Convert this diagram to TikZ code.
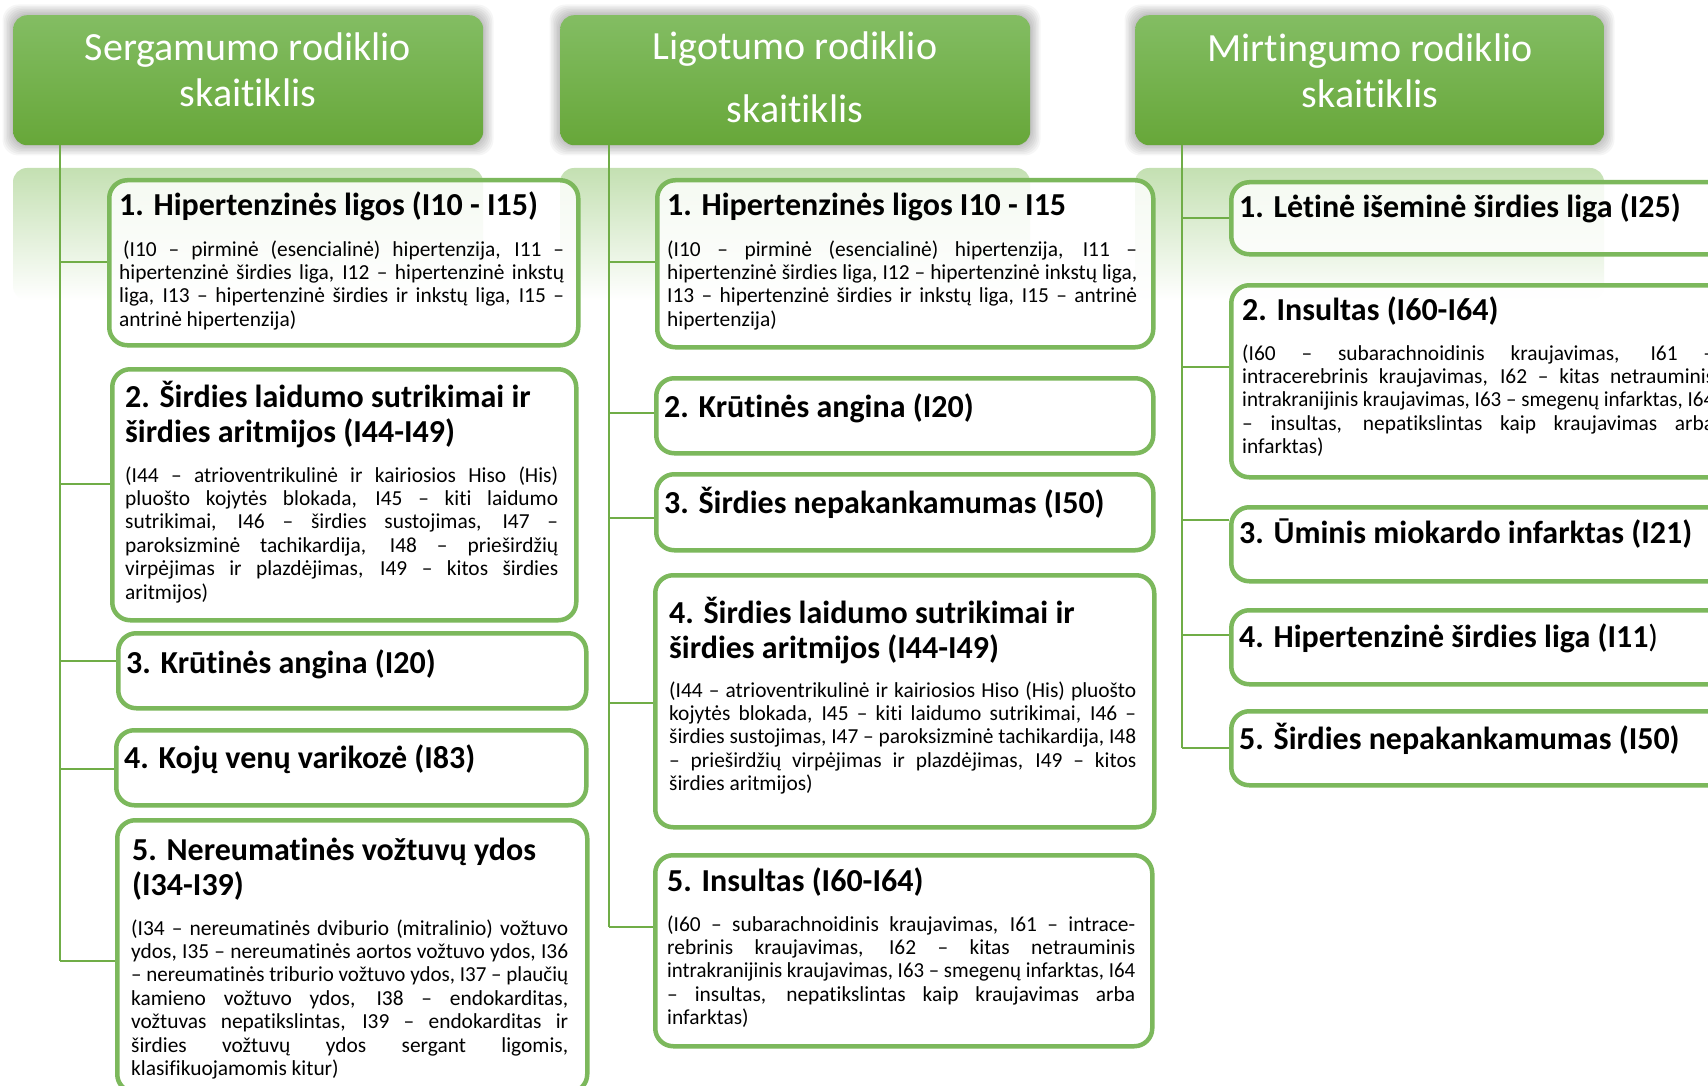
\documentclass[tikz,border=0pt]{standalone}
\usepackage{fontspec}
\usepackage{graphicx}
\setmainfont{Carlito}[Ligatures=NoCommon]
\definecolor{hdrtop}{RGB}{131,189,99}
\definecolor{hdrbot}{RGB}{103,167,57}
\definecolor{boxgreen}{RGB}{124,184,92}
\definecolor{linegreen}{RGB}{112,173,71}
\definecolor{refl}{RGB}{196,224,178}
\newlength\jlw
\newcommand{\jl}[1]{\settowidth{\jlw}{#1}%
  \ifdim\jlw>\linewidth
    \pgfmathsetmacro\jlr{\linewidth/\jlw}\scalebox{\jlr}[1]{#1}%
  \else
    \makebox[\linewidth][s]{#1}%
  \fi\\}
\tikzset{
  hdr/.style={rounded corners=14pt, top color=hdrtop, bottom color=hdrbot, draw=none,
    minimum width=470pt, minimum height=130pt, anchor=north west, inner sep=0pt},
  cbox/.style={draw=boxgreen, line width=4.5pt, rounded corners=18pt, fill=white,
    fill opacity=0.82, anchor=north west, inner sep=0pt},
  conn/.style={draw=linegreen, line width=2.6pt},
  ttl/.style={anchor=base west, inner sep=0pt, font=\fontsize{32}{35}\selectfont\bfseries},
  body/.style={anchor=base west, inner sep=0pt, font=\fontsize{21.4}{23.4}\selectfont},
  htxt/.style={anchor=base, inner sep=0pt, text=white, font=\fontsize{40}{46}\selectfont},
  shad/.style={fill=black, opacity=0.035, rounded corners=16pt},
}
\begin{document}
\begin{tikzpicture}[x=1pt,y=-1pt]
\useasboundingbox (0,0) rectangle (1708,1086);
\clip (0,0) rectangle (1708,1086);
\fill[white] (0,0) rectangle (1708,1086);

% shadows of headers
\foreach \xa/\xb in {13/483,560/1030,1135/1604}{
  \foreach \e in {1.5,3,...,10.5}{
    \fill[shad] (\xa-\e,15-\e) rectangle (\xb+\e,145+\e);
  }
}
% reflections
\foreach \xa/\xb in {13/483,560/1030,1135/1604}{
  \shade[top color=refl, bottom color=white, rounded corners=14pt] (\xa,168) rectangle (\xb,300);
}

% headers
\node[hdr] (h1) at (13,15) {};
\node[hdr] (h2) at (560,15) {};
\node[hdr, minimum width=469pt] (h3) at (1135,15) {};
\node[htxt] (h1t) at (248,61) {\parbox[t]{460pt}{\centering Sergamumo rodiklio\\skaitiklis}};
\node[htxt] (h2t) at (795,60) {\parbox[t]{460pt}{\centering\fontsize{40}{63}\selectfont Ligotumo rodiklio\\skaitiklis}};
\node[htxt] (h3t) at (1370,62) {\parbox[t]{460pt}{\centering Mirtingumo rodiklio\\skaitiklis}};

% spine coordinates
\coordinate (j11) at (60,262);
\coordinate (j12) at (60,484);
\coordinate (j13) at (60,661);
\coordinate (j14) at (60,769);
\coordinate (j15) at (60,961);
\coordinate (j21) at (609,262);
\coordinate (j22) at (609,413);
\coordinate (j23) at (609,518);
\coordinate (j24) at (609,703);
\coordinate (j25) at (609,927);
\coordinate (j31) at (1182,218);
\coordinate (j32) at (1182,367);
\coordinate (j33) at (1182,520);
\coordinate (j34) at (1182,635);
\coordinate (j35) at (1182,748);

\draw[conn] (h1.south -| j15) -- (j15);
\draw[conn] (h2.south -| j25) -- (j25);
\draw[conn] (h3.south -| j35) -- (j35);

% column 1 boxes
\node[cbox, minimum width=469pt, minimum height=165pt] (b11) at (107,178) {};
\node[cbox, minimum width=464pt, minimum height=251pt] (b12) at (110,367) {};
\node[cbox, minimum width=468pt, minimum height=75pt] (b13) at (116,631) {};
\node[cbox, minimum width=470pt, minimum height=75pt] (b14) at (114,728) {};
\node[cbox, minimum width=470pt, minimum height=272pt] (b15) at (115,818) {};
% column 2 boxes
\node[cbox, minimum width=496pt, minimum height=167pt] (b21) at (655,178) {};
\node[cbox, minimum width=497pt, minimum height=75pt] (b22) at (654,376) {};
\node[cbox, minimum width=497pt, minimum height=76pt] (b23) at (654,472) {};
\node[cbox, minimum width=499pt, minimum height=252pt] (b24) at (653,573) {};
\node[cbox, minimum width=497pt, minimum height=191pt] (b25) at (653,853) {};
% column 3 boxes
\node[cbox, minimum width=501pt, minimum height=72pt] (b31) at (1229,180) {};
\node[cbox, minimum width=501pt, minimum height=192pt] (b32) at (1229,283) {};
\node[cbox, minimum width=501pt, minimum height=74pt] (b33) at (1229,505) {};
\node[cbox, minimum width=501pt, minimum height=74pt] (b34) at (1229,608) {};
\node[cbox, minimum width=501pt, minimum height=74pt] (b35) at (1229,709) {};

% connectors
\foreach \c/\b in {j11/b11,j12/b12,j13/b13,j14/b14,j15/b15,j21/b21,j22/b22,j23/b23,j24/b24,j25/b25,j31/b31,j32/b32,j33/b33,j34/b34,j35/b35}{
  \draw[conn] (\c) -- (\c -| \b.west);
}

% column 1 texts
\node[ttl] (t11) at (119,216) {1. Hipertenzinės ligos (I10 - I15)};
\node[body] (d11) at (119,256) {\parbox[t]{445pt}{%
\jl{\hspace*{4pt}(I10 – pirminė (esencialinė) hipertenzija, I11 –}
\jl{hipertenzinė širdies liga, I12 – hipertenzinė inkstų}
\jl{liga, I13 – hipertenzinė širdies ir inkstų liga, I15 –}
antrinė hipertenzija)}};

\node[ttl] (t12) at (125,407) {\parbox[t]{440pt}{2. Širdies laidumo sutrikimai ir\\širdies aritmijos (I44-I49)}};
\node[body] (d12) at (125,482) {\parbox[t]{433pt}{%
\jl{(I44 – atrioventrikulinė ir kairiosios Hiso (His)}
\jl{pluošto kojytės blokada, I45 – kiti laidumo}
\jl{sutrikimai, I46 – širdies sustojimas, I47 –}
\jl{paroksizminė tachikardija, I48 – prieširdžių}
\jl{virpėjimas ir plazdėjimas, I49 – kitos širdies}
aritmijos)}};

\node[ttl] (t13) at (126,673) {3. Krūtinės angina (I20)};
\node[ttl] (t14) at (124,768) {4. Kojų venų varikozė (I83)};

\node[ttl] (t15) at (132,860) {\parbox[t]{440pt}{5. Nereumatinės vožtuvų ydos\\(I34-I39)}};
\node[body] (d15) at (131,935) {\parbox[t]{437pt}{%
\jl{(I34 – nereumatinės dviburio (mitralinio) vožtuvo}
\jl{ydos, I35 – nereumatinės aortos vožtuvo ydos, I36}
\jl{– nereumatinės triburio vožtuvo ydos, I37 – plaučių}
\jl{kamieno vožtuvo ydos, I38 – endokarditas,}
\jl{vožtuvas nepatikslintas, I39 – endokarditas ir}
\jl{širdies vožtuvų ydos sergant ligomis,}
klasifikuojamomis kitur)}};

% column 2 texts
\node[ttl] (t21) at (667,216) {1. Hipertenzinės ligos I10 - I15};
\node[body] (d21) at (667,256) {\parbox[t]{470pt}{%
\jl{(I10 – pirminė (esencialinė) hipertenzija, I11 –}
\jl{hipertenzinė širdies liga, I12 – hipertenzinė inkstų liga,}
\jl{I13 – hipertenzinė širdies ir inkstų liga, I15 – antrinė}
hipertenzija)}};
\node[ttl] (t22) at (664,417) {2. Krūtinės angina (I20)};
\node[ttl] (t23) at (664,513) {3. Širdies nepakankamumas (I50)};
\node[ttl] (t24) at (669,623) {\parbox[t]{470pt}{4. Širdies laidumo sutrikimai ir\\širdies aritmijos (I44-I49)}};
\node[body] (d24) at (669,697) {\parbox[t]{467pt}{%
\jl{(I44 – atrioventrikulinė ir kairiosios Hiso (His) pluošto}
\jl{kojytės blokada, I45 – kiti laidumo sutrikimai, I46 –}
\jl{širdies sustojimas, I47 – paroksizminė tachikardija, I48}
\jl{– prieširdžių virpėjimas ir plazdėjimas, I49 – kitos}
širdies aritmijos)}};
\node[ttl] (t25) at (667,891) {5. Insultas (I60-I64)};
\node[body] (d25) at (667,931) {\parbox[t]{468pt}{%
\jl{(I60 – subarachnoidinis kraujavimas, I61 – intrace-}
\jl{rebrinis kraujavimas, I62 – kitas netrauminis}
\jl{intrakranijinis kraujavimas, I63 – smegenų infarktas, I64}
\jl{– insultas, nepatikslintas kaip kraujavimas arba}
infarktas)}};

% column 3 texts
\node[ttl] (t31) at (1239,218) {1. Lėtinė išeminė širdies liga (I25)};
\node[ttl] (t32) at (1242,320) {2. Insultas (I60-I64)};
\node[body] (d32) at (1242,360) {\parbox[t]{472pt}{%
\jl{(I60 – subarachnoidinis kraujavimas, I61 –}
\jl{intracerebrinis kraujavimas, I62 – kitas netrauminis}
\jl{intrakranijinis kraujavimas, I63 – smegenų infarktas, I64}
\jl{– insultas, nepatikslintas kaip kraujavimas arba}
infarktas)}};
\node[ttl] (t33) at (1239,543) {3. Ūminis miokardo infarktas (I21)};
\node[ttl] (t34) at (1239,647) {4. Hipertenzinė širdies liga (I11{\mdseries)}};
\node[ttl] (t35) at (1239,749) {5. Širdies nepakankamumas (I50)};
\end{tikzpicture}
\end{document}
